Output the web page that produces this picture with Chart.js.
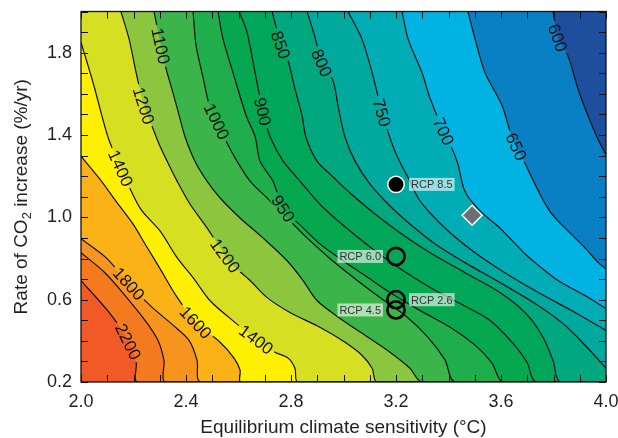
<!DOCTYPE html>
<html><head><meta charset="utf-8">
<script src="https://cdn.jsdelivr.net/npm/chart.js@4"></script>
<style>html,body{margin:0;padding:0;background:#fff;}</style>
</head><body>
<canvas id="c" width="618" height="438"></canvas>
<script>
// ---------- data ----------
const xRange = [2.0, 4.0];
const yRange = [0.2, 2.0];
const xTickLabels = [2.0, 2.4, 2.8, 3.2, 3.6, 4.0];
const yTickLabels = [0.2, 0.6, 1.0, 1.4, 1.8];
const minorStep = 0.1;

const levels = [2200, 2000, 1800, 1600, 1400, 1200, 1100, 1000, 950, 900, 850, 800, 750, 700, 650, 600];

const c2200 = [[2.0,0.693],[2.110,0.533],[2.179,0.403],[2.210,0.296],[2.217,0.2]];
const c2000 = [[2.0,0.828],[2.091,0.731],[2.168,0.620],[2.244,0.499],[2.293,0.403],[2.316,0.306],[2.324,0.2]];
const c1800 = [[2.0,0.896],[2.095,0.804],[2.183,0.678],[2.263,0.572],[2.347,0.480],[2.411,0.403],[2.442,0.306],[2.457,0.2]];
const c1600 = [[2.0,1.297],[2.069,1.190],[2.133,1.079],[2.198,0.968],[2.248,0.862],[2.301,0.751],[2.362,0.620],[2.438,0.490],[2.530,0.393],[2.583,0.316],[2.606,0.258],[2.610,0.2]];
const c1400 = [[2.0,1.850],[2.046,1.654],[2.103,1.389],[2.152,1.239],[2.225,1.045],[2.301,0.934],[2.366,0.804],[2.427,0.707],[2.491,0.596],[2.568,0.509],[2.663,0.412],[2.739,0.345],[2.789,0.316],[2.815,0.267],[2.827,0.2]];
const c1200 = [[2.152,2.0],[2.183,1.867],[2.210,1.703],[2.240,1.543],[2.274,1.432],[2.301,1.345],[2.328,1.273],[2.366,1.176],[2.415,1.065],[2.480,0.949],[2.530,0.852],[2.568,0.780],[2.644,0.693],[2.709,0.610],[2.796,0.538],[2.910,0.466],[3.006,0.393],[3.070,0.330],[3.109,0.267],[3.128,0.2]];
const c1100 = [[2.278,2.0],[2.305,1.833],[2.324,1.722],[2.350,1.606],[2.370,1.514],[2.396,1.393],[2.434,1.273],[2.480,1.176],[2.530,1.094],[2.606,0.997],[2.693,0.900],[2.785,0.789],[2.846,0.693],[2.899,0.596],[2.987,0.509],[3.082,0.427],[3.177,0.345],[3.253,0.267],[3.299,0.2]];
const c1000 = [[2.427,2.0],[2.438,1.838],[2.465,1.679],[2.491,1.534],[2.518,1.466],[2.549,1.379],[2.594,1.273],[2.644,1.176],[2.709,1.094],[2.785,0.997],[2.861,0.900],[2.949,0.799],[3.044,0.702],[3.139,0.610],[3.234,0.524],[3.322,0.417],[3.387,0.306],[3.425,0.2]];
const c950 = [[2.522,2.0],[2.541,1.867],[2.579,1.703],[2.629,1.495],[2.663,1.393],[2.682,1.273],[2.731,1.176],[2.770,1.045],[2.846,0.949],[2.910,0.871],[2.987,0.799],[3.082,0.717],[3.177,0.635],[3.291,0.548],[3.406,0.466],[3.501,0.379],[3.566,0.292],[3.608,0.2]];
const c900 = [[2.602,2.0],[2.632,1.901],[2.663,1.703],[2.693,1.514],[2.720,1.393],[2.770,1.273],[2.834,1.176],[2.899,1.079],[2.949,1.016],[3.025,0.934],[3.120,0.838],[3.215,0.751],[3.330,0.659],[3.444,0.581],[3.558,0.499],[3.642,0.393],[3.699,0.296],[3.733,0.2]];
const c850 = [[2.728,2.0],[2.762,1.838],[2.789,1.761],[2.815,1.625],[2.842,1.495],[2.857,1.389],[2.899,1.273],[2.949,1.210],[3.025,1.118],[3.120,1.016],[3.215,0.925],[3.330,0.828],[3.463,0.731],[3.596,0.635],[3.691,0.538],[3.756,0.427],[3.798,0.306],[3.825,0.2]];
const c800 = [[2.861,2.0],[2.891,1.877],[2.918,1.751],[2.960,1.664],[2.979,1.543],[3.006,1.389],[3.044,1.273],[3.101,1.161],[3.177,1.055],[3.253,0.968],[3.349,0.871],[3.463,0.780],[3.596,0.683],[3.730,0.581],[3.844,0.475],[3.931,0.364],[4.0,0.267]];
const c750 = [[3.017,2.0],[3.070,1.867],[3.109,1.703],[3.147,1.509],[3.170,1.413],[3.196,1.321],[3.223,1.248],[3.253,1.176],[3.284,1.094],[3.330,1.021],[3.406,0.925],[3.501,0.828],[3.615,0.731],[3.749,0.630],[3.882,0.538],[4.0,0.451]];
const c700 = [[3.223,2.0],[3.246,1.867],[3.299,1.703],[3.330,1.577],[3.379,1.427],[3.413,1.335],[3.436,1.258],[3.462,1.128],[3.520,1.031],[3.595,0.949],[3.691,0.823],[3.730,0.780],[3.817,0.693],[3.920,0.620],[4.0,0.557]];
const c650 = [[3.474,2.0],[3.501,1.867],[3.539,1.703],[3.604,1.543],[3.642,1.389],[3.691,1.263],[3.756,1.094],[3.794,1.016],[3.855,0.934],[3.920,0.852],[3.970,0.780],[4.0,0.751]];
const c600 = [[3.798,2.0],[3.817,1.872],[3.855,1.785],[3.893,1.625],[3.931,1.495],[3.966,1.389],[4.0,1.302]];
const contours = [c2200, c2000, c1800, c1600, c1400, c1200, c1100, c1000, c950, c900, c850, c800, c750, c700, c650, c600];

const labelLevels = [2200, 1800, 1600, 1400, 1400, 1200, 1200, 1100, 1000, 950, 900, 850, 800, 750, 700, 650, 600];
const labelX = [2.183, 2.183, 2.438, 2.152, 2.670, 2.240, 2.549, 2.305, 2.518, 2.773, 2.693, 2.762, 2.918, 3.147, 3.379, 3.653, 3.817];
const labelY = [0.398, 0.678, 0.490, 1.239, 0.412, 1.543, 0.813, 1.833, 1.466, 1.045, 1.514, 1.838, 1.751, 1.509, 1.417, 1.340, 1.872];

const rcpNames = ['RCP 8.5', 'RCP 6.0', 'RCP 2.6', 'RCP 4.5'];
const rcpX = [3.2, 3.2, 3.2, 3.2];
const rcpY = [1.16, 0.81, 0.60, 0.55];
const diamondX = [3.49];
const diamondY = [1.01];

const xTitle = 'Equilibrium climate sensitivity (°C)';
const yTitleParts = ['Rate of CO', '2', ' increase (%/yr)'];

// ---------- styles ----------
const FAM = '"Liberation Sans", Arial, Helvetica, sans-serif';
const TXT = '#231F20';
const baseColor = '#F15A26';
const bandColors = ['#F47A20', '#F7941D', '#FBB217', '#FFEF00', '#D7DF23', '#8CC63F', '#3BB54A', '#1FAE4B', '#06A84F', '#00A659', '#00A77F', '#00A99D', '#00ADB6', '#00B3E2', '#0A80C4', '#1D4F9E'];
const rcpSide = [1, -1, 1, -1];
const labelFontSize = 17;

// ---------- datasets ----------
const toPts = arr => arr.map(p => ({x: p[0], y: p[1]}));
function withFloor(arr) {
  const pts = toPts(arr);
  const last = arr[arr.length - 1];
  if (last[1] <= yRange[0] + 1e-9 && last[0] < xRange[1]) pts.push({x: xRange[1], y: yRange[0]});
  return pts;
}
const datasets = [];
datasets.push({data: [{x: xRange[0], y: yRange[0]}, {x: xRange[1], y: yRange[0]}], fill: 'end',
  backgroundColor: baseColor, borderColor: 'rgba(0,0,0,0)', borderWidth: 0, pointRadius: 0, order: 100});
contours.forEach((c, i) => {
  const pts = withFloor(c);
  datasets.push({data: pts, fill: 'end', backgroundColor: bandColors[i], borderColor: 'rgba(0,0,0,0)',
    borderWidth: 0, pointRadius: 0, tension: 0.3, order: 90 - i});
  datasets.push({data: pts, fill: false, borderColor: '#111111', borderWidth: 1.2, pointRadius: 0,
    tension: 0.3, order: 10, isStroke: true});
});
datasets.push({data: rcpX.map((x, i) => ({x, y: rcpY[i]})), showLine: false, fill: false,
  pointRadius: [8.2, 8.6, 8.6, 8.6], pointStyle: 'circle',
  pointBackgroundColor: ['#000000', 'rgba(0,0,0,0)', 'rgba(0,0,0,0)', 'rgba(0,0,0,0)'],
  pointBorderColor: ['#ffffff', '#000000', '#000000', '#000000'],
  pointBorderWidth: [1.5, 2.6, 2.6, 2.6], order: 2});
datasets.push({data: diamondX.map((x, i) => ({x, y: diamondY[i]})), showLine: false, fill: false,
  pointRadius: 10, pointStyle: 'rectRot', pointBackgroundColor: '#6D6E71', pointBorderColor: '#ffffff',
  pointBorderWidth: 1.5, order: 1});

// ---------- label geometry ----------
function computeLabelGeom(chart) {
  const xs = chart.scales.x, ys = chart.scales.y, ctx = chart.ctx;
  ctx.save();
  ctx.font = labelFontSize + 'px ' + FAM;
  const out = [];
  labelLevels.forEach((lev, i) => {
    const c = contours[levels.indexOf(lev)];
    const P = c.map(p => [xs.getPixelForValue(p[0]), ys.getPixelForValue(p[1])]);
    const L = [xs.getPixelForValue(labelX[i]), ys.getPixelForValue(labelY[i])];
    const cum = [0];
    for (let k = 1; k < P.length; k++) cum.push(cum[k - 1] + Math.hypot(P[k][0] - P[k - 1][0], P[k][1] - P[k - 1][1]));
    let best = null;
    for (let k = 0; k < P.length - 1; k++) {
      const A = P[k], B = P[k + 1];
      const dx = B[0] - A[0], dy = B[1] - A[1];
      const len2 = dx * dx + dy * dy || 1;
      let t = ((L[0] - A[0]) * dx + (L[1] - A[1]) * dy) / len2;
      t = Math.max(0, Math.min(1, t));
      const q = [A[0] + t * dx, A[1] + t * dy];
      const d = Math.hypot(q[0] - L[0], q[1] - L[1]);
      if (!best || d < best.d) best = {d, q, s: cum[k] + t * Math.sqrt(len2)};
    }
    const at = s => {
      s = Math.max(0, Math.min(cum[cum.length - 1], s));
      for (let k = 0; k < P.length - 1; k++) {
        if (s <= cum[k + 1] || k === P.length - 2) {
          const seg = cum[k + 1] - cum[k] || 1;
          const t = (s - cum[k]) / seg;
          return [P[k][0] + t * (P[k + 1][0] - P[k][0]), P[k][1] + t * (P[k + 1][1] - P[k][1])];
        }
      }
    };
    const a1 = at(best.s - 14), a2 = at(best.s + 14);
    let ang = Math.atan2(a2[1] - a1[1], a2[0] - a1[0]);
    if (ang > Math.PI / 2) ang -= Math.PI;
    if (ang < -Math.PI / 2) ang += Math.PI;
    const text = String(lev);
    out.push({text, cx: best.q[0], cy: best.q[1], ang, w: ctx.measureText(text).width});
  });
  ctx.restore();
  return out;
}

const decor = {
  id: 'decor',
  beforeDatasetsDraw(chart) { chart.$labelGeom = computeLabelGeom(chart); },
  beforeDatasetDraw(chart, args) {
    const ds = chart.data.datasets[args.index];
    if (!ds.isStroke) return;
    const ctx = chart.ctx, a = chart.chartArea;
    ctx.save();
    ctx.beginPath();
    ctx.rect(a.left - 2, a.top - 2, a.right - a.left + 4, a.bottom - a.top + 4);
    chart.$labelGeom.forEach(g => {
      const hl = g.w / 2 + 3, hh = 7;
      const ux = Math.cos(g.ang), uy = Math.sin(g.ang), vx = -uy, vy = ux;
      ctx.moveTo(g.cx - ux * hl - vx * hh, g.cy - uy * hl - vy * hh);
      ctx.lineTo(g.cx + ux * hl - vx * hh, g.cy + uy * hl - vy * hh);
      ctx.lineTo(g.cx + ux * hl + vx * hh, g.cy + uy * hl + vy * hh);
      ctx.lineTo(g.cx - ux * hl + vx * hh, g.cy - uy * hl + vy * hh);
      ctx.closePath();
    });
    ctx.clip('evenodd');
  },
  afterDatasetDraw(chart, args) {
    if (chart.data.datasets[args.index].isStroke) chart.ctx.restore();
  },
  afterDatasetsDraw(chart) {
    const ctx = chart.ctx, xs = chart.scales.x, ys = chart.scales.y;
    ctx.save();
    ctx.font = labelFontSize + 'px ' + FAM;
    ctx.fillStyle = '#111111';
    ctx.textAlign = 'center';
    ctx.textBaseline = 'alphabetic';
    chart.$labelGeom.forEach(g => {
      ctx.save();
      ctx.translate(g.cx, g.cy);
      ctx.rotate(g.ang);
      ctx.fillText(g.text, 0, 0.358 * labelFontSize);
      ctx.restore();
    });
    ctx.restore();
    ctx.save();
    ctx.font = '11px ' + FAM;
    ctx.textBaseline = 'alphabetic';
    ctx.textAlign = 'left';
    rcpNames.forEach((name, i) => {
      const px = xs.getPixelForValue(rcpX[i]), py = ys.getPixelForValue(rcpY[i]);
      const w = ctx.measureText(name).width + 4, h = 13;
      const bx = rcpSide[i] > 0 ? px + 13 : px - 13 - w;
      const by = py - h / 2;
      ctx.fillStyle = 'rgba(255,255,255,0.6)';
      ctx.fillRect(bx, by, w, h);
      ctx.fillStyle = '#333333';
      ctx.fillText(name, bx + 2, py + 4);
    });
    ctx.restore();
  },
  afterDraw(chart) {
    const ctx = chart.ctx, a = chart.chartArea, xs = chart.scales.x, ys = chart.scales.y;
    ctx.save();
    ctx.strokeStyle = '#111111';
    ctx.lineWidth = 1;
    const tl = 7;
    ctx.beginPath();
    const nx = Math.round((xRange[1] - xRange[0]) / minorStep);
    for (let i = 0; i <= nx; i++) {
      const px = Math.round(xs.getPixelForValue(xRange[0] + i * minorStep)) + 0.5;
      ctx.moveTo(px, a.bottom); ctx.lineTo(px, a.bottom - tl);
      ctx.moveTo(px, a.top); ctx.lineTo(px, a.top + tl);
    }
    const ny = Math.round((yRange[1] - yRange[0]) / minorStep);
    for (let i = 0; i <= ny; i++) {
      const py = Math.round(ys.getPixelForValue(yRange[0] + i * minorStep)) + 0.5;
      ctx.moveTo(a.left, py); ctx.lineTo(a.left + tl, py);
      ctx.moveTo(a.right, py); ctx.lineTo(a.right - tl, py);
    }
    ctx.stroke();
    ctx.lineWidth = 1.3;
    ctx.strokeRect(a.left, a.top, a.right - a.left, a.bottom - a.top);
    ctx.fillStyle = TXT;
    ctx.font = '19px ' + FAM;
    ctx.textAlign = 'center';
    ctx.textBaseline = 'alphabetic';
    ctx.fillText(xTitle, (a.left + a.right) / 2, 433);
    ctx.translate(27, (a.top + a.bottom) / 2);
    ctx.rotate(-Math.PI / 2);
    ctx.textAlign = 'left';
    const f1 = '19px ' + FAM, f2 = '13px ' + FAM;
    ctx.font = f1;
    const w1 = ctx.measureText(yTitleParts[0]).width, w3 = ctx.measureText(yTitleParts[2]).width;
    ctx.font = f2;
    const w2 = ctx.measureText(yTitleParts[1]).width;
    const x0 = -(w1 + w2 + w3) / 2;
    ctx.font = f1; ctx.fillText(yTitleParts[0], x0, 0);
    ctx.font = f2; ctx.fillText(yTitleParts[1], x0 + w1, 4);
    ctx.font = f1; ctx.fillText(yTitleParts[2], x0 + w1 + w2, 0);
    ctx.restore();
  }
};

new Chart(document.getElementById('c'), {
  type: 'line',
  data: {datasets},
  options: {
    responsive: false, animation: false, devicePixelRatio: 1, events: [],
    layout: {padding: {left: 0, right: 12, top: 9.5, bottom: 0}},
    plugins: {legend: {display: false}, tooltip: {enabled: false}},
    scales: {
      x: {
        type: 'linear', min: xRange[0], max: xRange[1],
        grid: {display: false, drawTicks: false}, border: {display: false},
        afterBuildTicks: s => { s.ticks = xTickLabels.map(v => ({value: v})); },
        ticks: {padding: 9, autoSkip: false, maxRotation: 0, color: TXT,
          font: {family: FAM, size: 18}, callback: v => Number(v).toFixed(1)},
        afterFit: s => { s.height = 56; s.paddingLeft = 0; s.paddingRight = 0; }
      },
      y: {
        type: 'linear', min: yRange[0], max: yRange[1],
        grid: {display: false, drawTicks: false}, border: {display: false},
        afterBuildTicks: s => { s.ticks = yTickLabels.map(v => ({value: v})); },
        ticks: {padding: 9, autoSkip: false, color: TXT,
          font: {family: FAM, size: 18}, callback: v => Number(v).toFixed(1)},
        afterFit: s => { s.width = 81; s.paddingTop = 0; s.paddingBottom = 0; }
      }
    }
  },
  plugins: [decor]
});
</script>
</body></html>
